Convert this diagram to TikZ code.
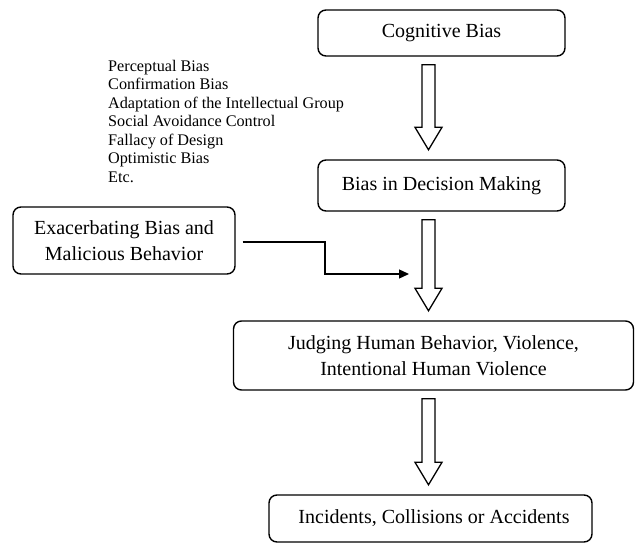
\documentclass[tikz,border=0pt]{standalone}
\usepackage{fontspec}
\setmainfont{Liberation Serif}
\usetikzlibrary{calc,arrows.meta}
\tikzset{
  boxnode/.style={draw, line width=1.4pt, rounded corners=8pt, inner sep=0pt,
    align=center, font=\fontsize{20}{26}\selectfont},
  barrow/.style={draw, line width=1.3pt, fill=white, line join=miter},
  conn/.style={line width=1.3pt, -{Triangle[length=10pt,width=9pt]}},
  listtext/.style={inner sep=0pt, align=left, font=\fontsize{16.2}{18.5}\selectfont}
}
\newcommand{\blockarr}[2]{%
  \draw[barrow] ($(#1.south -| ax)+(-6.5,8)$) -- ($(#2.north -| ax)+(-6.5,-32)$)
    -- ($(#2.north -| ax)+(-13.5,-32)$) -- ($(#2.north -| ax)+(0,-9.5)$)
    -- ($(#2.north -| ax)+(13.5,-32)$) -- ($(#2.north -| ax)+(6.5,-32)$)
    -- ($(#1.south -| ax)+(6.5,8)$) -- cycle;}
\begin{document}
\begin{tikzpicture}[x=1pt,y=-1pt]
\useasboundingbox (0,0) rectangle (635,545);
\coordinate (ax) at (428.5,0);
\node[boxnode, minimum width=247pt, minimum height=46pt] (cog) at (441.5,33) {Cognitive Bias};
\node[boxnode, minimum width=247pt, minimum height=51pt] (bias) at (441.5,185.5) {Bias in Decision Making};
\node[boxnode, minimum width=222pt, minimum height=67pt] (exac) at (124,240.5) {Exacerbating Bias and\\Malicious Behavior};
\node[boxnode, minimum width=400pt, minimum height=69pt] (judge) at (433.5,355.5) {Judging Human Behavior, Violence,\\Intentional Human Violence};
\node[boxnode, minimum width=323pt, minimum height=47pt] (inc) at (430.5,518.5) {\hspace*{7pt}Incidents, Collisions or Accidents};
\node[listtext, anchor=north west] (list) at (108,60) {Perceptual Bias\\Confirmation Bias\\Adaptation of the Intellectual Group\\Social Avoidance Control\\Fallacy of Design\\Optimistic Bias\\Etc.};
\blockarr{cog}{bias}
\blockarr{bias}{judge}
\blockarr{judge}{inc}
\coordinate (jbend) at (325,274);
\coordinate (jtip) at (409,274);
\draw[conn] ([xshift=7pt,yshift=-1.5pt]exac.east) -| (jbend) -- (jtip);
\end{tikzpicture}
\end{document}
